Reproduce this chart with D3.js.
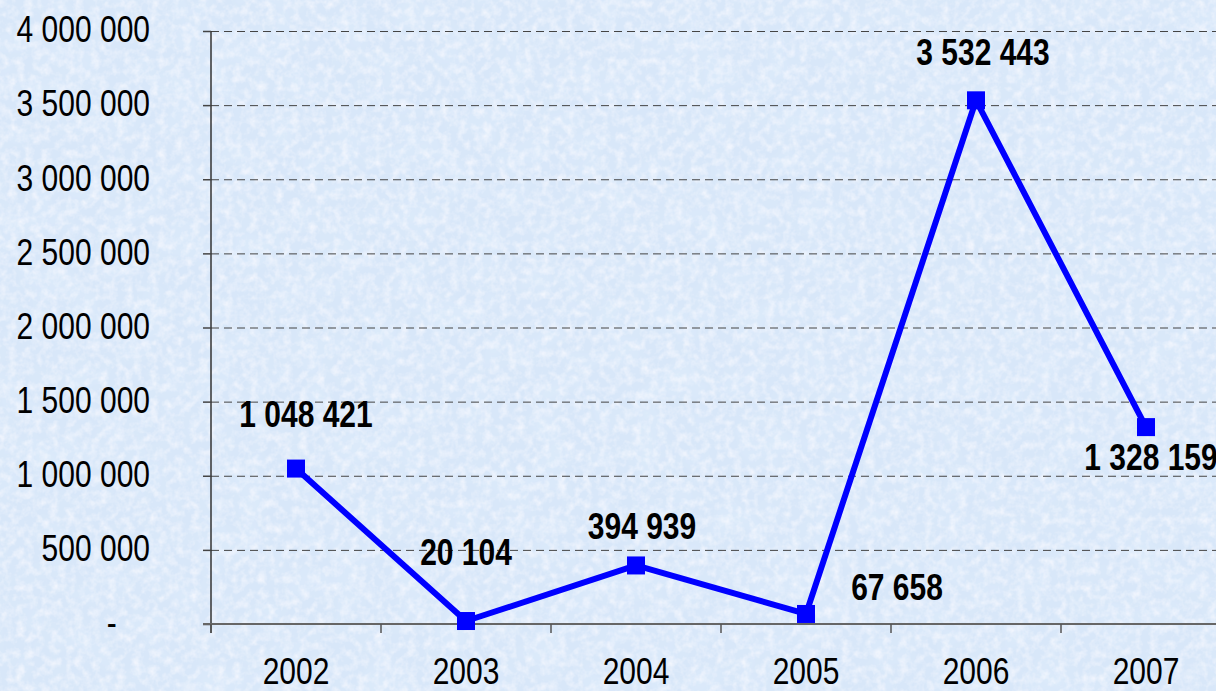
<!DOCTYPE html>
<html>
<head>
<meta charset="utf-8">
<script src="https://cdn.jsdelivr.net/npm/d3@7"></script>
<style>
  body { margin: 0; overflow: hidden; }
  text { font-family: "Liberation Sans", Arial, sans-serif; }
</style>
</head>
<body>
<div id="chart"></div>
<script>
var years = ["2002", "2003", "2004", "2005", "2006", "2007"];
var values = [1048421, 20104, 394939, 67658, 3532443, 1328159];
var yTicks = [0, 500000, 1000000, 1500000, 2000000, 2500000, 3000000, 3500000, 4000000];

var width = 1216,
    height = 691;

/* label offsets from each point (dx, dy), as placed in the original */
var labelDx = [10, 0, 6, 91, 7, 5],
    labelDy = [-42, -56, -26, -14, -35, 43];

var svg = d3.select("#chart")
    .append("svg")
    .attr("width", width)
    .attr("height", height);

/* textured light blue background */
var defs = svg.append("defs");
var f = defs.append("filter").attr("id", "tex")
    .attr("x", 0).attr("y", 0).attr("width", "100%").attr("height", "100%");
f.append("feTurbulence")
    .attr("type", "fractalNoise")
    .attr("baseFrequency", 0.12)
    .attr("numOctaves", 3)
    .attr("seed", 4);
f.append("feColorMatrix")
    .attr("type", "matrix")
    .attr("values", "0 0 0 0 0.96  0 0 0 0 0.96  0 0 0 0 1  1.4 0 0 0 -0.55");

var f2 = defs.append("filter").attr("id", "tex2")
    .attr("x", 0).attr("y", 0).attr("width", "100%").attr("height", "100%");
f2.append("feTurbulence")
    .attr("type", "fractalNoise")
    .attr("baseFrequency", 0.03)
    .attr("numOctaves", 2)
    .attr("seed", 9);
f2.append("feColorMatrix")
    .attr("type", "matrix")
    .attr("values", "0 0 0 0 0.74  0 0 0 0 0.85  0 0 0 0 0.97  1.3 0 0 0 -0.55");

svg.append("rect").attr("width", width).attr("height", height).attr("fill", "#d8e7f9");
svg.append("rect").attr("width", width).attr("height", height).attr("filter", "url(#tex2)");
svg.append("rect").attr("width", width).attr("height", height).attr("filter", "url(#tex)");

/* scales */
var x = d3.scaleBand()
    .domain(years)
    .range([211, 1231]);

var y = d3.scaleLinear()
    .domain([0, 4000000])
    .range([624, 31]);

var fmt = d3.formatLocale({ thousands: " ", grouping: [3], decimal: ",", currency: ["", ""] }).format(",");
var ySX = "scale(1,1.2)";

/* gridlines */
svg.append("g")
    .attr("transform", "translate(211,0)")
    .call(d3.axisLeft(y).tickValues(yTicks.slice(1)).tickSize(-(width - 211)).tickFormat(""))
    .call(function(g) {
        g.select(".domain").remove();
        g.selectAll("line")
            .attr("stroke", "#444")
            .attr("stroke-width", 1)
            .attr("stroke-dasharray", "8,5");
    });

/* y axis */
svg.append("g")
    .attr("transform", "translate(211,0)")
    .call(d3.axisLeft(y).tickValues(yTicks).tickSize(8).tickPadding(53)
        .tickFormat(function(d) { return d === 0 ? "-\u00a0\u00a0\u00a0\u00a0" : fmt(d); }))
    .call(function(g) {
        g.select(".domain").attr("stroke", "#333").attr("stroke-width", 1.5).attr("d", "M0,31V633");
        g.selectAll("line").attr("stroke", "#444").attr("stroke-width", 1.5);
        g.selectAll("text")
            .attr("font-size", 30)
            .attr("fill", "#000")
            .attr("dy", "0.3em")
            .attr("transform", ySX);
    });

/* x axis */
var xAxis = svg.append("g")
    .attr("transform", "translate(0,624)")
    .call(d3.axisBottom(x).tickSize(0))
    .call(function(g) {
        g.select(".domain").attr("stroke", "#666").attr("stroke-width", 2).attr("d", "M203,0H" + width);
        g.selectAll("text")
            .attr("font-size", 30)
            .attr("fill", "#000")
            .attr("y", 60 / 1.2)
            .attr("dy", null)
            .attr("transform", ySX);
    });

xAxis.selectAll(".sep")
    .data(years.concat(["end"]))
    .enter().append("line")
    .attr("class", "sep")
    .attr("x1", function(d) { return d === "end" ? x.range()[1] : x(d); })
    .attr("x2", function(d) { return d === "end" ? x.range()[1] : x(d); })
    .attr("y1", 0)
    .attr("y2", 9)
    .attr("stroke", "#555")
    .attr("stroke-width", 1.5);

/* line */
var pts = years.map(function(d, i) { return { year: d, value: values[i], i: i }; });

var line = d3.line()
    .x(function(d) { return x(d.year) + x.bandwidth() / 2; })
    .y(function(d) { return y(d.value); });

svg.append("path")
    .datum(pts)
    .attr("d", line)
    .attr("fill", "none")
    .attr("stroke", "#0000ff")
    .attr("stroke-width", 6)
    .attr("stroke-linejoin", "round");

svg.selectAll(".marker")
    .data(pts)
    .enter().append("rect")
    .attr("class", "marker")
    .attr("x", function(d) { return x(d.year) + x.bandwidth() / 2 - 9; })
    .attr("y", function(d) { return y(d.value) - 9; })
    .attr("width", 18)
    .attr("height", 18)
    .attr("fill", "#0000ff");

/* value labels */
svg.selectAll(".lbl")
    .data(pts)
    .enter().append("text")
    .attr("class", "lbl")
    .attr("text-anchor", "middle")
    .attr("font-size", 30)
    .attr("font-weight", "bold")
    .attr("fill", "#000")
    .attr("transform", function(d) {
        var px = x(d.year) + x.bandwidth() / 2 + labelDx[d.i];
        var py = y(d.value) + labelDy[d.i];
        return "translate(" + px + "," + py + ") " + ySX;
    })
    .text(function(d) { return fmt(d.value); });
</script>
</body>
</html>
